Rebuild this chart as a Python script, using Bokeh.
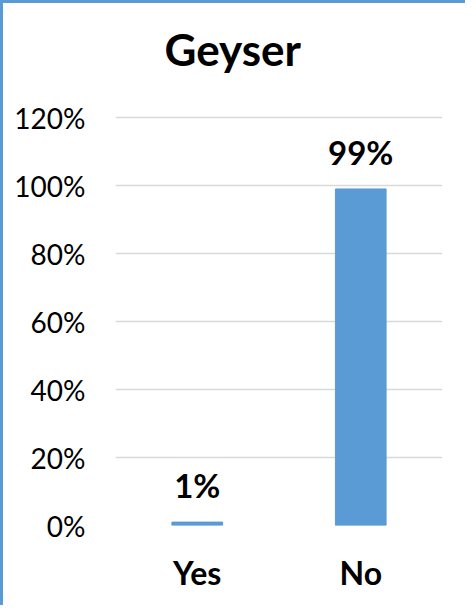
from bokeh.plotting import figure
from bokeh.models import ColumnDataSource, NumeralTickFormatter, FixedTicker, Range1d
from bokeh.embed import file_html
from bokeh.resources import INLINE
from bokeh.core.properties import value

categories = ["Yes", "No"]
shares = [0.01, 0.99]
share_labels = ["1%", "99%"]
y_ticks = [0, 0.2, 0.4, 0.6, 0.8, 1.0, 1.2]

src = ColumnDataSource(dict(cat=categories, share=shares, label=share_labels))

p = figure(x_range=categories, y_range=Range1d(0, 1.312), width=465, height=605,
           output_backend="svg", toolbar_location=None, title="Geyser",
           min_border_left=112, min_border_right=26, min_border_top=76,
           min_border_bottom=83)
p.styles = {"border-left": "3px solid #5B9BD5", "border-top": "3px solid #5B9BD5"}

p.vbar(x="cat", top="share", width=0.31, source=src, color="#5B9BD5")
p.text(x="cat", y="share", text="label", source=src, text_align="center",
       text_baseline="alphabetic", y_offset=-37, text_font=value("Lato"),
       text_font_style="bold", text_font_size="33px", text_color="black")

p.outline_line_color = None
p.xgrid.grid_line_color = None
p.ygrid.grid_line_color = "#D9D9D9"
p.ygrid.grid_line_width = 1.5

p.title.text_font = "Lato"
p.title.text_font_size = "44px"
p.title.text_font_style = "bold"
p.title.text_color = "black"
p.title.align = "left"
p.title.offset = 49
p.title.standoff = 10

p.yaxis.ticker = FixedTicker(ticks=y_ticks)
p.yaxis.formatter = NumeralTickFormatter(format="0%")
for ax in (p.xaxis[0], p.yaxis[0]):
    ax.axis_line_color = None
    ax.major_tick_line_color = None
    ax.minor_tick_line_color = None
    ax.major_tick_out = 0
    ax.major_label_text_font = "Lato"
    ax.major_label_text_color = "black"

p.yaxis.major_label_text_font_size = "28px"
p.yaxis.major_label_standoff = 30
p.xaxis.major_label_text_font_size = "32px"
p.xaxis.major_label_text_font_style = "bold"
p.xaxis.major_label_standoff = 27

open("out.html", "w").write(file_html(p, INLINE))
